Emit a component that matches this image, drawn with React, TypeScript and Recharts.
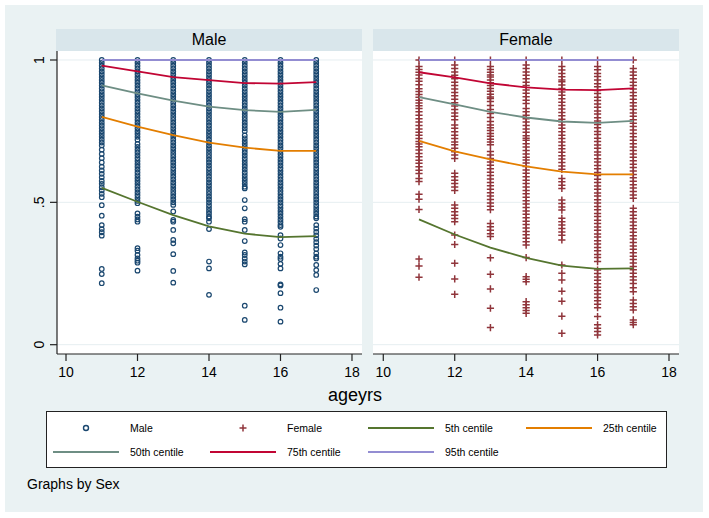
import React from "react";
import { ScatterChart, Scatter, XAxis, YAxis, CartesianGrid } from "recharts";

// ages on the x axis, one column of observations per age
const ages = [11, 12, 13, 14, 15, 16, 17];
const xTicks = [10, 12, 14, 16, 18];
const yTicks = [0, 0.5, 1];
const yTickLabels: Record<string, string> = { "0": "0", "0.5": ".5", "1": "1" };

const male11 = [1, .99, .98, .97, .96, .95, .94, .93, .92, .91, .9, .89, .88, .87, .86, .85, .84, .83, .82, .81, .8, .79, .78, .77, .76, .75, .74, .73, .72, .71, .7, .685, .67, .655, .64, .625, .612, .6, .588, .575, .565, .553, .542, .53, .518, .49, .453, .42, .406, .395, .383, .266, .248, .216];
const male12 = [1, .99, .98, .97, .96, .95, .94, .93, .92, .91, .9, .89, .88, .87, .86, .85, .84, .83, .82, .81, .8, .79, .78, .77, .76, .75, .74, .73, .72, .705, .695, .685, .675, .665, .655, .645, .635, .625, .615, .605, .595, .585, .575, .565, .555, .545, .535, .525, .515, .505, .497, .461, .45, .44, .432, .339, .33, .315, .303, .295, .288, .26];
const male13 = [1, .99, .98, .97, .96, .95, .94, .93, .92, .91, .9, .89, .88, .87, .86, .85, .84, .83, .82, .81, .8, .79, .78, .77, .76, .75, .74, .73, .72, .71, .7, .69, .68, .67, .66, .65, .64, .63, .62, .61, .6, .59, .58, .57, .56, .55, .54, .53, .52, .51, .5, .491, .468, .438, .432, .403, .368, .356, .318, .259, .218];
const male14 = [1, .99, .98, .97, .96, .95, .94, .93, .92, .91, .9, .89, .88, .87, .86, .85, .84, .83, .82, .81, .8, .79, .78, .77, .76, .75, .74, .73, .72, .71, .7, .69, .68, .67, .66, .65, .64, .63, .62, .61, .6, .59, .58, .57, .56, .55, .54, .53, .52, .51, .5, .49, .48, .47, .46, .45, .444, .432, .406, .292, .268, .175];
const male15 = [1, .99, .98, .97, .96, .95, .94, .93, .92, .91, .9, .89, .88, .87, .86, .85, .84, .83, .82, .81, .8, .79, .78, .77, .76, .75, .735, .725, .715, .705, .695, .685, .675, .665, .655, .645, .635, .625, .615, .605, .595, .585, .575, .565, .555, .549, .508, .479, .441, .432, .403, .364, .324, .315, .303, .292, .282, .137, .087];
const male16 = [1, .99, .98, .97, .96, .95, .94, .93, .92, .91, .9, .89, .88, .87, .86, .85, .84, .83, .82, .81, .8, .79, .78, .77, .76, .75, .74, .73, .72, .71, .7, .69, .68, .67, .66, .65, .64, .63, .62, .61, .6, .59, .58, .57, .56, .55, .54, .53, .52, .51, .5, .49, .48, .47, .46, .45, .44, .43, .42, .414, .385, .373, .35, .321, .309, .301, .284, .268, .212, .208, .181, .13, .081];
const male17 = [1, .99, .98, .97, .96, .95, .94, .93, .92, .91, .9, .89, .88, .87, .86, .85, .84, .83, .82, .81, .8, .79, .78, .77, .76, .75, .74, .73, .72, .71, .7, .69, .68, .67, .66, .65, .64, .63, .62, .61, .6, .59, .58, .57, .56, .55, .54, .53, .52, .51, .5, .49, .48, .47, .46, .45, .444, .42, .408, .396, .384, .372, .36, .348, .336, .321, .309, .303, .28, .262, .245, .192];

// Female observations
const female11 = [1, .977, .967, .957, .947, .935, .925, .913, .899, .889, .879, .869, .859, .849, .839, .83, .818, .806, .794, .782, .77, .758, .746, .736, .724, .714, .705, .695, .684, .672, .66, .648, .637, .625, .613, .601, .584, .573, .528, .511, .475, .301, .276, .237];
const female12 = [1, .982, .97, .958, .946, .934, .922, .91, .898, .886, .874, .862, .85, .838, .826, .814, .802, .79, .772, .76, .748, .736, .724, .712, .702, .69, .678, .666, .654, .602, .59, .578, .566, .554, .542, .491, .479, .467, .455, .443, .432, .385, .352, .286, .231, .177];
const female13 = [1, .977, .967, .957, .947, .94, .93, .92, .91, .9, .89, .88, .87, .865, .854, .84, .826, .812, .798, .784, .772, .762, .752, .742, .732, .722, .712, .702, .679, .666, .654, .642, .63, .618, .606, .594, .582, .57, .558, .546, .534, .522, .51, .498, .486, .474, .426, .414, .402, .39, .38, .305, .247, .196, .128, .06];
const female14 = [1, .982, .97, .958, .946, .934, .922, .91, .895, .883, .871, .859, .847, .83, .818, .806, .794, .782, .77, .758, .746, .734, .725, .718, .706, .694, .682, .67, .658, .649, .638, .626, .614, .602, .59, .578, .566, .554, .542, .53, .518, .506, .494, .482, .47, .458, .446, .434, .422, .41, .398, .386, .374, .362, .35, .306, .239, .23, .221, .151, .14, .13, .12, .11];
const female15 = [1, .977, .965, .953, .941, .93, .924, .912, .9, .888, .876, .864, .852, .84, .828, .816, .804, .792, .783, .772, .76, .748, .736, .724, .712, .7, .688, .676, .664, .652, .64, .628, .616, .584, .572, .56, .549, .508, .496, .484, .473, .444, .432, .42, .408, .396, .384, .368, .28, .251, .227, .188, .153, .1, .04];
const female16 = [1, .977, .966, .953, .942, .93, .917, .906, .893, .882, .869, .858, .845, .834, .821, .81, .797, .786, .773, .762, .749, .738, .725, .714, .701, .69, .677, .666, .653, .642, .629, .618, .605, .594, .581, .57, .557, .546, .533, .522, .509, .498, .485, .474, .461, .45, .437, .426, .413, .402, .389, .378, .365, .354, .341, .33, .317, .306, .292, .262, .25, .238, .226, .214, .202, .19, .178, .166, .154, .142, .13, .099, .07, .058, .046, .034];
const female17 = [1, .97, .958, .946, .934, .922, .91, .898, .886, .874, .862, .85, .838, .826, .814, .802, .79, .778, .766, .754, .742, .73, .718, .706, .694, .682, .67, .658, .646, .634, .622, .61, .598, .586, .574, .562, .55, .538, .526, .514, .479, .467, .455, .443, .431, .419, .407, .395, .383, .371, .359, .347, .335, .323, .311, .299, .287, .275, .263, .251, .239, .227, .215, .2, .186, .157, .145, .133, .122, .087, .078, .07];

// fitted centiles at each age
const maleP5 = [.551, .502, .455, .416, .39, .378, .381];
const maleP25 = [.8, .766, .736, .71, .692, .681, .681];
const maleP50 = [.911, .883, .857, .836, .824, .818, .825];
const maleP75 = [.98, .96, .94, .929, .919, .917, .922];
const maleP95 = [1, 1, 1, 1, 1, 1, 1];
const femaleP5 = [.44, .387, .341, .305, .278, .266, .268];
const femaleP25 = [.716, .679, .651, .626, .608, .598, .598];
const femaleP50 = [.87, .844, .818, .798, .784, .779, .786];
const femaleP75 = [.957, .939, .918, .904, .896, .894, .9];
const femaleP95 = [1, 1, 1, 1, 1, 1, 1];

const centileNames = ["5th centile", "25th centile", "50th centile", "75th centile", "95th centile"];
const centileColors = ["#55752f", "#e37e00", "#6e8e84", "#c10534", "#938dd2"];
const maleColor = "#1a476f";
const femaleColor = "#90353b";
const font = "'Liberation Sans', Arial, Helvetica, sans-serif";

const toPoints = (cols: number[][]) =>
  cols.flatMap((col, i) => col.map((v) => ({ x: ages[i], y: v })));
const toLine = (vals: number[]) => vals.map((v, i) => ({ x: ages[i], y: v }));

const CircleMark = (p: any) => (
  <circle cx={p.cx} cy={p.cy} r={2.3} fill="none" stroke={maleColor} strokeWidth={1.2} />
);
const CrossMark = (p: any) => (
  <path
    d={`M${p.cx - 3.6},${p.cy}h7.2M${p.cx},${p.cy - 3.6}v7.2`}
    stroke={femaleColor}
    strokeWidth={1.5}
    fill="none"
  />
);
const NoMark = () => <g />;

const XTick = ({ x, payload }: any) => (
  <text x={x} y={377} textAnchor="middle" fontSize={14} fontFamily={font} fill="#000">
    {payload.value}
  </text>
);
const YTick = ({ y, payload }: any) => (
  <text
    transform={`translate(43.5, ${y}) rotate(-90)`}
    textAnchor="middle"
    fontSize={14}
    fontFamily={font}
    fill="#000"
  >
    {yTickLabels[String(payload.value)]}
  </text>
);

interface PanelProps {
  left: number;
  width: number;
  cols: number[][];
  centiles: number[][];
  female?: boolean;
  xDomain: [number, number];
}

const Panel = ({ left, width, cols, centiles, female, xDomain }: PanelProps) => (
  <div style={{ position: "absolute", left, top: 0 }}>
    <ScatterChart
      width={width}
      height={400}
      margin={{ top: 51, right: 8, bottom: 0, left: female ? 57 : 0 }}
    >
      <CartesianGrid
        vertical={false}
        horizontalValues={yTicks}
        stroke="#e6eef1"
        fill="#ffffff"
        fillOpacity={1}
      />
      <XAxis
        type="number"
        dataKey="x"
        domain={xDomain}
        ticks={xTicks}
        interval={0}
        allowDataOverflow
        height={46}
        tickSize={7}
        axisLine={{ stroke: "#222", strokeWidth: 1.2 }}
        tickLine={{ stroke: "#222", strokeWidth: 1.2 }}
        tick={<XTick />}
      />
      <YAxis
        type="number"
        dataKey="y"
        domain={[-0.0327, 1.0316]}
        ticks={yTicks}
        interval={0}
        allowDataOverflow
        hide={!!female}
        width={57}
        tickSize={7}
        axisLine={{ stroke: "#222", strokeWidth: 1.2 }}
        tickLine={{ stroke: "#222", strokeWidth: 1.2 }}
        tick={<YTick />}
      />
      <Scatter
        data={toPoints(cols)}
        shape={female ? CrossMark : CircleMark}
        fill={female ? femaleColor : maleColor}
        isAnimationActive={false}
      />
      {centiles.map((vals, i) => (
        <Scatter
          key={centileNames[i]}
          data={toLine(vals)}
          fill={centileColors[i]}
          line={{ stroke: centileColors[i], strokeWidth: 1.8 }}
          lineType="joint"
          shape={NoMark}
          isAnimationActive={false}
        />
      ))}
    </ScatterChart>
  </div>
);

// legend layout: 4 columns, 2 rows
const legendItems = [
  { label: "Male", kind: "circle", color: maleColor },
  { label: "Female", kind: "cross", color: femaleColor },
  ...centileNames.map((n, i) => ({ label: n, kind: "line", color: centileColors[i] })),
];
const legendKeyX = [53, 210, 368, 526];
const legendRowY = [428, 452];

export default function App() {
  return (
    <div
      style={{
        position: "absolute",
        left: 0,
        top: 0,
        width: 709,
        height: 518,
        background: "#ffffff",
        fontFamily: font,
        overflow: "hidden",
      }}
    >
      <svg width={709} height={518} style={{ position: "absolute", left: 0, top: 0 }}>
        <rect x={5} y={5} width={698} height={507} fill="#eaf2f3" />
        <rect x={56} y={29} width={306} height={22} fill="#d9e6eb" />
        <rect x={373} y={29} width={306} height={22} fill="#d9e6eb" />
        <text x={209} y={45} textAnchor="middle" fontSize={16} fill="#000">Male</text>
        <text x={526} y={45} textAnchor="middle" fontSize={16} fill="#000">Female</text>
        <text x={355} y={401} textAnchor="middle" fontSize={18} fill="#000">ageyrs</text>
        <rect x={46.5} y={411.5} width={620} height={56} fill="#ffffff" stroke="#222" strokeWidth={1} />
        {legendItems.map((it, i) => {
          const col = i % 4;
          const row = Math.floor(i / 4);
          const kx = legendKeyX[col];
          const y = legendRowY[row];
          const cx = kx + 33;
          return (
            <g key={it.label}>
              {it.kind === "circle" && (
                <circle cx={cx} cy={y} r={2.5} fill="none" stroke={it.color} strokeWidth={1.4} />
              )}
              {it.kind === "cross" && (
                <path d={`M${cx - 3.5},${y}h7M${cx},${y - 3.5}v7`} stroke={it.color} strokeWidth={1.5} />
              )}
              {it.kind === "line" && (
                <line x1={kx} x2={kx + 66} y1={y} y2={y} stroke={it.color} strokeWidth={2} />
              )}
              <text x={kx + 77} y={y + 4} fontSize={10.5} fill="#000">{it.label}</text>
            </g>
          );
        })}
        <text x={27} y={489} fontSize={14} fill="#000">Graphs by Sex</text>
      </svg>
      <Panel
        left={0}
        width={370}
        cols={[male11, male12, male13, male14, male15, male16, male17]}
        centiles={[maleP5, maleP25, maleP50, maleP75, maleP95]}
        xDomain={[9.748, 18.28]}
      />
      <Panel
        left={316}
        width={371}
        female
        cols={[female11, female12, female13, female14, female15, female16, female17]}
        centiles={[femaleP5, femaleP25, femaleP50, femaleP75, femaleP95]}
        xDomain={[9.712, 18.28]}
      />
    </div>
  );
}
